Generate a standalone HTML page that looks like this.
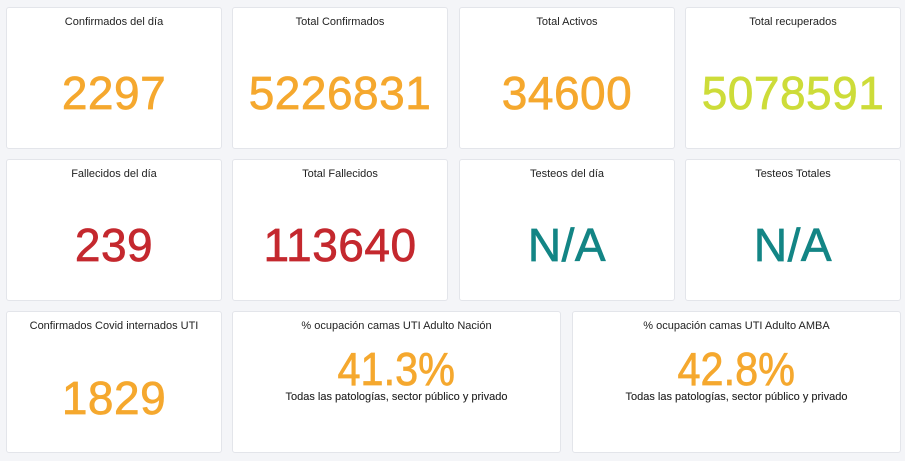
<!DOCTYPE html>
<html><head><meta charset="utf-8"><style>
body{margin:0;width:905px;height:461px;background:#f4f5f8;font-family:"Liberation Sans",sans-serif;position:relative;overflow:hidden}
.c{position:absolute;background:#fff;border:1px solid #e3e5ea;border-radius:3px;box-sizing:border-box}
.t{position:absolute;top:8px;left:0;right:0;text-align:center;font-size:11px;color:#222}
.v{position:absolute;left:0;right:0;text-align:center;font-size:46px;line-height:46px;font-weight:normal;-webkit-text-stroke:0.7px currentColor;letter-spacing:0.5px}
.s{position:absolute;left:0;right:0;text-align:center;font-size:11px;color:#222;top:79px;-webkit-text-stroke:0.1px #222}
.p{letter-spacing:0}
.p span{display:inline-block;transform:scaleX(0.9)}
.o{color:#f5a82e}.r{color:#c4282e}.g{color:#138585}.y{color:#cddc39}
</style></head><body>
<div class="c" style="left:6px;top:7px;width:216px;height:142px"><div class="t">Confirmados del día</div><div class="v o" style="top:62px">2297</div></div>
<div class="c" style="left:232px;top:7px;width:216px;height:142px"><div class="t">Total Confirmados</div><div class="v o" style="top:62px">5226831</div></div>
<div class="c" style="left:459px;top:7px;width:216px;height:142px"><div class="t">Total Activos</div><div class="v o" style="top:62px">34600</div></div>
<div class="c" style="left:685px;top:7px;width:216px;height:142px"><div class="t">Total recuperados</div><div class="v y" style="top:62px">5078591</div></div>
<div class="c" style="left:6px;top:159px;width:216px;height:142px"><div class="t">Fallecidos del día</div><div class="v r" style="top:62px">239</div></div>
<div class="c" style="left:232px;top:159px;width:216px;height:142px"><div class="t">Total Fallecidos</div><div class="v r" style="top:62px">113640</div></div>
<div class="c" style="left:459px;top:159px;width:216px;height:142px"><div class="t">Testeos del día</div><div class="v g" style="top:62px">N/A</div></div>
<div class="c" style="left:685px;top:159px;width:216px;height:142px"><div class="t">Testeos Totales</div><div class="v g" style="top:62px">N/A</div></div>
<div class="c" style="left:6px;top:311px;width:216px;height:142px"><div class="t">Confirmados Covid internados UTI</div><div class="v o" style="top:63px">1829</div></div>
<div class="c" style="left:232px;top:311px;width:329px;height:142px"><div class="t">% ocupación camas UTI Adulto Nación</div><div class="v o p" style="top:34px"><span>41.3%</span></div><div class="s">Todas las patologías, sector público y privado</div></div>
<div class="c" style="left:572px;top:311px;width:329px;height:142px"><div class="t">% ocupación camas UTI Adulto AMBA</div><div class="v o p" style="top:34px"><span>42.8%</span></div><div class="s">Todas las patologías, sector público y privado</div></div>
</body></html>
